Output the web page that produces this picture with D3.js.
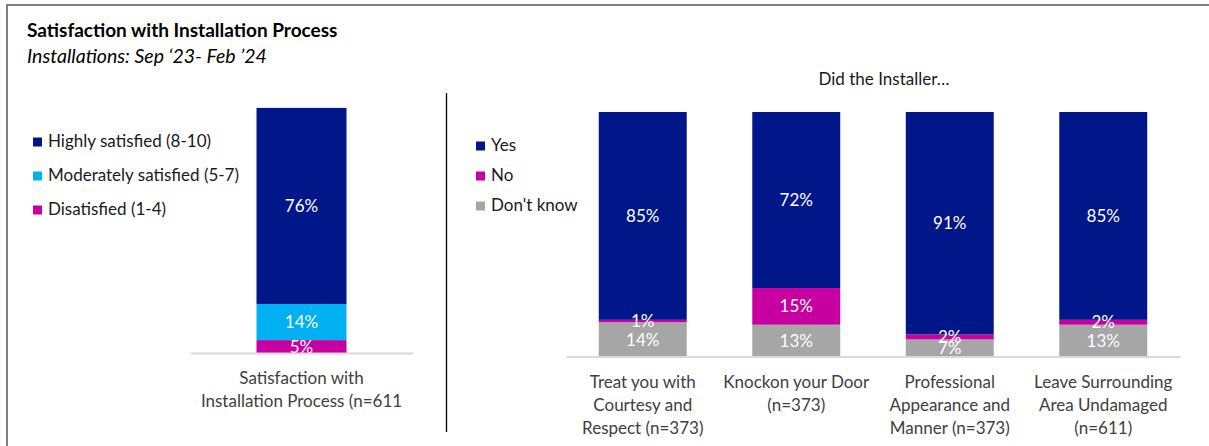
<!DOCTYPE html>
<html>
<head>
<meta charset="utf-8">
<style>
  body { margin: 0; background: #fff; }
  svg text { font-family: Lato, "Open Sans", sans-serif; }
</style>
</head>
<body>
<svg id="chart" width="1209" height="446"></svg>

<script src="https://cdn.jsdelivr.net/npm/d3@7"></script>
<script>
// left chart: overall satisfaction
var satCategories = ["Satisfaction with Installation Process (n=611"];
var satTickLines = [["Satisfaction with", "Installation Process (n=611"]];
var satSeries = ["Highly satisfied (8-10)", "Moderately satisfied (5-7)", "Disatisfied (1-4)"];
var satHighly = [76];
var satModerate = [14];
var satDis = [5];

// right chart: did the installer...
var instCategories = ["Treat you with Courtesy and Respect (n=373)", "Knockon your Door (n=373)",
  "Professional Appearance and Manner (n=373)", "Leave Surrounding Area Undamaged (n=611)"];
var instTickLines = [
  ["Treat you with", "Courtesy and", "Respect (n=373)"],
  ["Knockon your Door", "(n=373)"],
  ["Professional", "Appearance and", "Manner (n=373)"],
  ["Leave Surrounding", "Area Undamaged", "(n=611)"]
];
var instSeries = ["Yes", "No", "Don't know"];
var instYes = [85, 72, 91, 85];
var instNo = [1, 15, 2, 2];
var instDk = [14, 13, 7, 13];

var navy = "#001689", cyan = "#00b0f0", magenta = "#c800a1", grey = "#a6a6a6";

var svg = d3.select("#chart");

// outer frame
svg.append("rect")
  .attr("x", 7).attr("y", 5)
  .attr("width", 1230).attr("height", 460)
  .attr("fill", "none")
  .attr("stroke", "#808080")
  .attr("stroke-width", 2);

svg.append("text")
  .attr("x", 27).attr("y", 37)
  .attr("font-size", 19).attr("font-weight", "bold")
  .attr("fill", "#000")
  .text("Satisfaction with Installation Process");

svg.append("text")
  .attr("x", 27).attr("y", 63)
  .attr("font-size", 19.5).attr("font-style", "italic")
  .attr("fill", "#000")
  .text("Installations: Sep \u201823- Feb \u201924");

// divider
svg.append("line")
  .attr("x1", 446.5).attr("x2", 446.5)
  .attr("y1", 93).attr("y2", 432)
  .attr("stroke", "#000").attr("stroke-width", 1.3);

svg.append("text")
  .attr("x", 884).attr("y", 85)
  .attr("text-anchor", "middle")
  .attr("font-size", 17).attr("fill", "#1a1a1a")
  .text("Did the Installer\u2026");

function drawStack(opts) {
  var x = d3.scaleBand().domain(opts.categories).range(opts.xRange)
    .paddingInner(opts.padInner).paddingOuter(opts.padOuter);
  var y = d3.scaleLinear().domain([0, 100]).range(opts.yRange);

  var rows = opts.categories.map(function(c, i) {
    var r = { cat: c };
    opts.keys.forEach(function(k, j) { r[k] = opts.values[j][i]; });
    return r;
  });
  var stack = d3.stack().keys(opts.keys)(rows);

  var g = svg.append("g");
  var layers = g.selectAll("g.layer").data(stack).enter().append("g")
    .attr("fill", function(d, i) { return opts.colors[i]; });

  layers.selectAll("rect").data(function(d) { return d; }).enter().append("rect")
    .attr("x", function(d) { return x(d.data.cat); })
    .attr("width", x.bandwidth())
    .attr("y", function(d) { return y(d[1]); })
    .attr("height", function(d) { return y(d[0]) - y(d[1]); });

  // labels go on top of every segment
  var labels = g.append("g");
  stack.forEach(function(layer) {
    labels.selectAll(null).data(layer).enter().append("text")
      .attr("x", function(d) { return x(d.data.cat) + x.bandwidth() / 2; })
      .attr("y", function(d) { return (y(d[0]) + y(d[1])) / 2; })
      .attr("dy", "0.36em")
      .attr("text-anchor", "middle")
      .attr("font-size", 17)
      .attr("fill", "#fff")
      .text(function(d) { return (d[1] - d[0]) + "%"; });
  });

  var axis = g.append("g")
    .attr("transform", "translate(0," + opts.yRange[0] + ")")
    .call(d3.axisBottom(x).tickSize(0).tickSizeOuter(0).tickFormat(""));
  axis.select(".domain").attr("stroke", "#d9d9d9").attr("stroke-width", 2);

  axis.selectAll(".tick text").each(function(d, i) {
    var t = d3.select(this)
      .attr("y", 0).attr("dy", null)
      .attr("font-size", 17)
      .attr("font-family", "Lato, sans-serif")
      .attr("fill", "#404040");
    opts.tickLines[i].forEach(function(line, k) {
      t.append("tspan").attr("x", 0).attr("y", 31 + k * 23).text(line);
    });
  });

  // legend
  var leg = svg.append("g");
  opts.legendKeys.forEach(function(name, i) {
    var ly = opts.legendY + i * opts.legendStep;
    leg.append("rect")
      .attr("x", opts.legendX).attr("y", ly - 9.5)
      .attr("width", 9).attr("height", 9)
      .attr("fill", opts.legendColors[i]);
    leg.append("text")
      .attr("x", opts.legendX + 15).attr("y", ly)
      .attr("font-size", 17).attr("fill", "#1a1a1a")
      .text(name);
  });
}

drawStack({
  categories: satCategories,
  tickLines: satTickLines,
  keys: ["dis", "moderate", "highly"],
  values: [satDis, satModerate, satHighly],
  colors: [magenta, cyan, navy],
  xRange: [190, 413], yRange: [353, 95],
  padInner: 0, padOuter: 0.739,
  legendKeys: satSeries, legendColors: [navy, cyan, magenta],
  legendX: 33, legendY: 147, legendStep: 34
});

drawStack({
  categories: instCategories,
  tickLines: instTickLines,
  keys: ["dk", "no", "yes"],
  values: [instDk, instNo, instYes],
  colors: [grey, magenta, navy],
  xRange: [566, 1180], yRange: [356.5, 112],
  padInner: 0.427, padOuter: 0.2135,
  legendKeys: instSeries, legendColors: [navy, magenta, grey],
  legendX: 476, legendY: 151, legendStep: 30
});
</script>
</body>
</html>
